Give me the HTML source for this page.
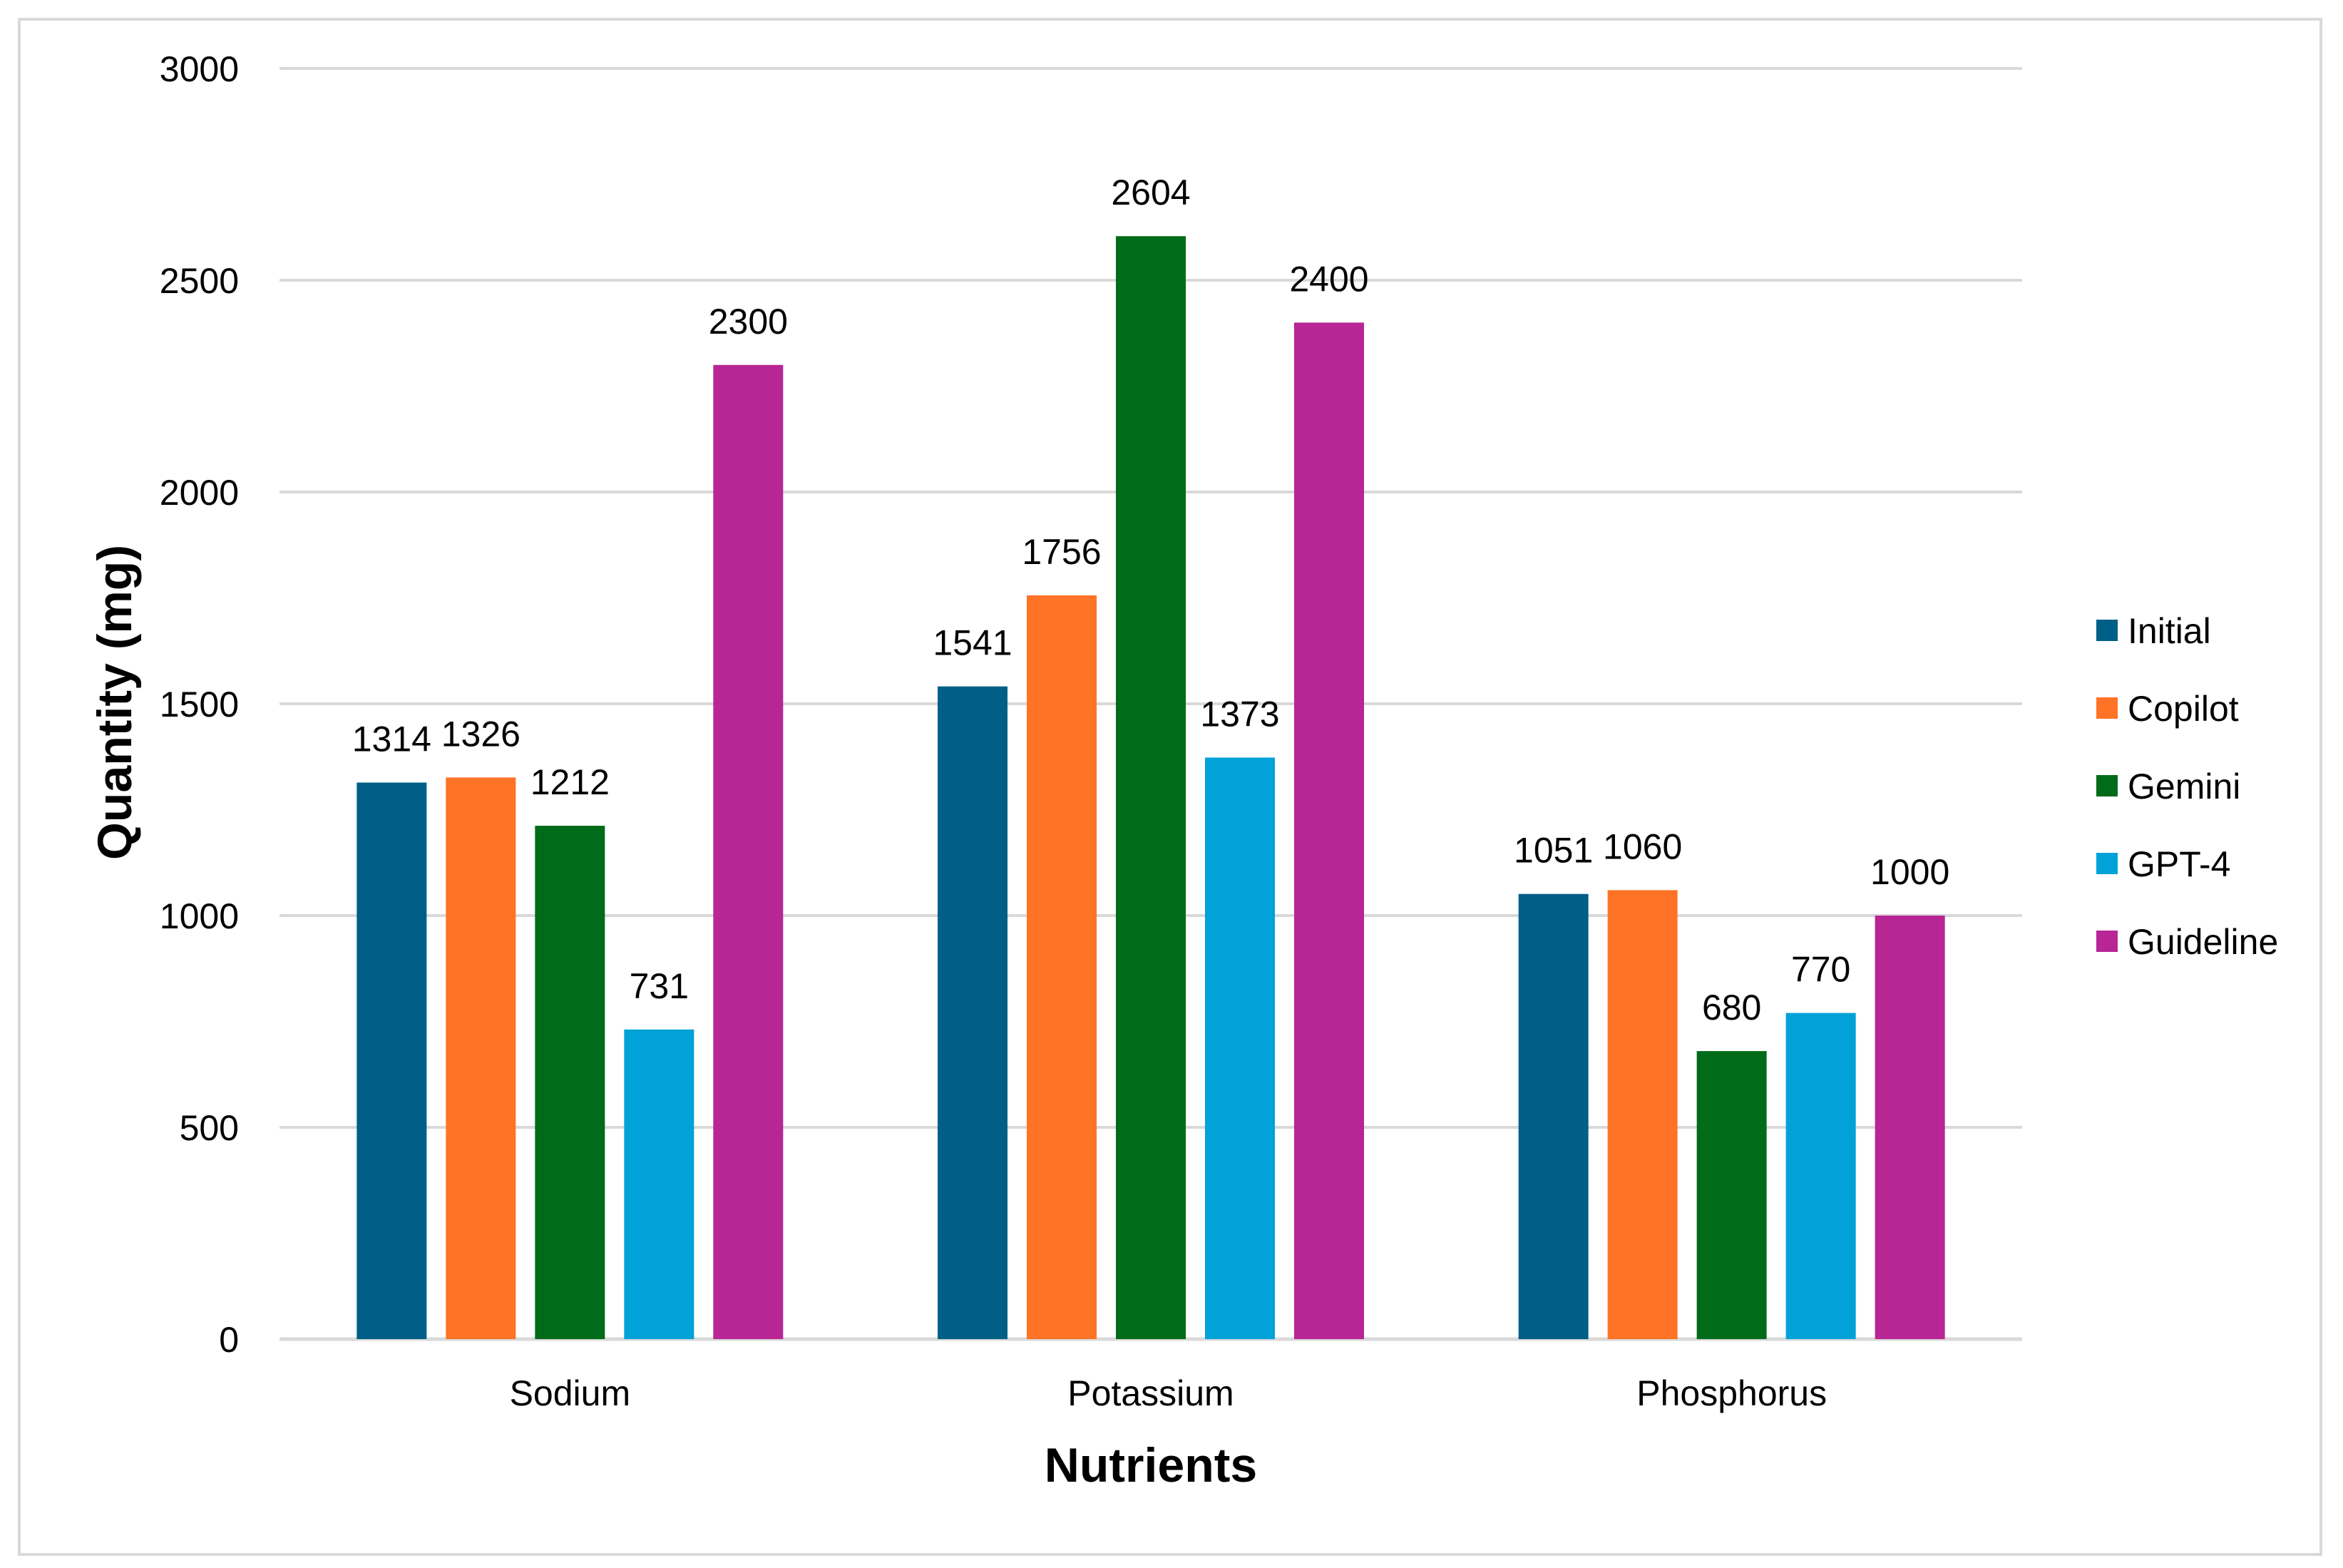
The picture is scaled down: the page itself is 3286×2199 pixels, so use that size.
<!DOCTYPE html>
<html><head><meta charset="utf-8">
<style>
html,body{margin:0;padding:0;background:#fff;}
svg{display:block;font-family:"Liberation Sans",Arial,sans-serif;}
</style></head>
<body>
<svg id="chart" width="3286" height="2199" viewBox="0 0 3286 2199" xmlns="http://www.w3.org/2000/svg">
<rect x="27" y="27" width="3228" height="2153" fill="#fff" stroke="#d9d9d9" stroke-width="4"/>
<g id="grid"></g>
<g id="bars"></g>
<g id="labels"></g>
<g id="xaxis"></g>
<g id="yaxis"></g>
<text x="1614" y="2078" font-size="68" font-weight="bold" text-anchor="middle" fill="#000">Nutrients</text>
<text transform="translate(184,985) rotate(-90)" font-size="68" font-weight="bold" text-anchor="middle" fill="#000">Quantity (mg)</text>
<g id="legend"></g>
</svg>
<script>
const categories = ["Sodium", "Potassium", "Phosphorus"];
const seriesNames = ["Initial", "Copilot", "Gemini", "GPT-4", "Guideline"];
const initialVals = [1314, 1541, 1051];
const copilotVals = [1326, 1756, 1060];
const geminiVals = [1212, 2604, 680];
const gpt4Vals = [731, 1373, 770];
const guidelineVals = [2300, 2400, 1000];
const yTicks = [0, 500, 1000, 1500, 2000, 2500, 3000];

const allSeries = [initialVals, copilotVals, geminiVals, gpt4Vals, guidelineVals];
const colors = ["#005f86", "#ff7326", "#006b18", "#00a2d8", "#b82594"];
const NS = "http://www.w3.org/2000/svg";
const plotL = 392, plotR = 2836, plotTop = 96, plotBot = 1878, yMax = 3000;
const catW = (plotR - plotL) / categories.length;
const barW = 98, pitch = 125;
function y(v){ return plotBot - v / yMax * (plotBot - plotTop); }
function xCenter(i){ return plotL + catW * (i + 0.5); }
function mk(tag, attrs, parent){
  const e = document.createElementNS(NS, tag);
  for (const k in attrs) e.setAttribute(k, attrs[k]);
  parent.appendChild(e); return e;
}
const grid = document.getElementById('grid');
const yaxis = document.getElementById('yaxis');
yTicks.forEach(t => {
  const l = mk('line', {x1: plotL, x2: plotR, y1: y(t), y2: y(t), stroke: '#d9d9d9', 'stroke-width': t === 0 ? 5 : 4}, grid);
  
  
  const tx = mk('text', {x: 335, y: y(t) + 18, 'font-size': 50, 'text-anchor': 'end', fill: '#000'}, yaxis);
  tx.textContent = t;
  
  
});
const bars = document.getElementById('bars');
const labels = document.getElementById('labels');
const xaxis = document.getElementById('xaxis');
categories.forEach((c, i) => {
  const cx = xCenter(i);
  allSeries.forEach((s, j) => {
    const bx = cx + (j - 2) * pitch - barW / 2;
    const r = mk('rect', {x: bx, y: y(s[i]), width: barW, height: plotBot - y(s[i]), fill: colors[j]}, bars);
    
    
    const t = mk('text', {x: bx + barW / 2, y: y(s[i]) - 44, 'font-size': 50, 'text-anchor': 'middle', fill: '#000'}, labels);
    t.textContent = s[i];
    
    
  });
  const ct = mk('text', {x: cx, y: 1971, 'font-size': 50, 'text-anchor': 'middle', fill: '#000'}, xaxis);
  ct.textContent = c;
  
  
});
const legend = document.getElementById('legend');
seriesNames.forEach((n, j) => {
  const cy = 884 + j * 109;
  const g = mk('g', {}, legend);
  
  
  mk('rect', {x: 2940, y: cy - 15, width: 30, height: 30, fill: colors[j]}, g);
  const t = mk('text', {x: 2984, y: cy + 18, 'font-size': 50, fill: '#000'}, g);
  t.textContent = n;
});
</script>
</body></html>
